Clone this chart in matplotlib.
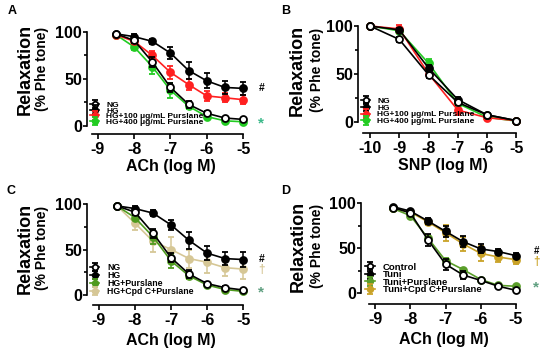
import matplotlib.pyplot as plt

plt.rcParams['font.family'] = ['Liberation Sans', 'DejaVu Sans']
plt.rcParams['font.weight'] = 'bold'

# data
ach_x = [-8.5, -8, -7.5, -7, -6.5, -6, -5.5, -5]
snp_x = [-10, -9, -8, -7, -6, -5]

# A
a_ng = [98, 91, 68, 41, 23, 13.5, 8.5, 7]
a_ng_err = [1, 3, 5, 5, 4, 2, 1.5, 1.5]
a_hg = [98, 95, 90, 77.5, 59, 48, 41, 40]
a_hg_err = [1, 3, 3, 6, 9, 8, 7, 7]
a_p100 = [97, 90, 75, 57, 44, 32, 30, 28]
a_p100_err = [1, 3, 5, 7, 6, 5, 5, 5]
a_p400 = [97, 84, 63, 38, 21, 10, 5.5, 4.5]
a_p400_err = [1, 3, 8, 8, 3, 2, 1, 1]

# B
b_ng = [100, 86, 49, 20, 7, 1]
b_ng_err = [0.5, 3, 3, 3, 1, 1]
b_hg = [100, 96, 56, 23, 7, 1]
b_hg_err = [0.5, 2, 3, 3, 1, 1]
b_p100 = [100, 97, 50, 12, 4, 1]
b_p100_err = [0.5, 4, 3, 5, 1, 1]
b_p400 = [100, 95, 61, 19, 4.5, 0.5]
b_p400_err = [0.5, 2, 4, 3, 1, 1]

# C
c_ng = [98, 91, 68, 41, 23, 12.5, 8, 5.5]
c_ng_err = [1, 3, 5, 5, 4, 2, 1.5, 1.5]
c_hg = [98, 95, 90, 77, 60, 46, 40, 39]
c_hg_err = [1, 3, 3, 6, 9, 8, 7, 8]
c_pur = [98, 85, 64, 37.5, 21, 11, 6, 4]
c_pur_err = [1, 3, 8, 8, 3, 2, 1, 1]
c_cpd = [98, 79, 59, 50, 40, 36, 30, 28.5]
c_cpd_err = [1, 8, 12, 14, 10, 12, 9, 11]

# D
d_ctrl = [95, 89, 59, 32, 20, 14, 7.5, 3]
d_ctrl_err = [2, 1, 7, 6, 4, 2, 1, 1]
d_tuni = [96, 91, 80, 68.5, 57, 49, 46, 41.5]
d_tuni_err = [1, 1, 3, 6, 6, 5, 3, 3]
d_pur = [94, 86, 61, 36, 26, 15, 8.5, 7.5]
d_pur_err = [1, 1, 2, 3, 2, 1, 1, 1]
d_cpd = [94, 90, 79, 67, 54.5, 44, 40, 37]
d_cpd_err = [1, 2, 3, 9, 8, 8, 5, 5]


def curve(ax, x, y, err, color, label, fill=None, z=2):
    ax.errorbar(x, y, yerr=err, color=color, marker='o', ms=5,
                mfc=fill if fill else color, mec=color, mew=1.3, lw=1.2,
                elinewidth=1.1, capsize=2.5, capthick=1.1, label=label, zorder=z)


def style(ax, xlim, ylim, xstart, xticks, xlabel, legfs, legpos, legsp, xlpad=2):
    ax.set_xlim(*xlim)
    ax.set_ylim(*ylim)
    for s in ['top', 'right']:
        ax.spines[s].set_visible(False)
    for s in ['left', 'bottom']:
        ax.spines[s].set_linewidth(1.2)
    ax.spines['left'].set_bounds(0, 100)
    ax.spines['bottom'].set_bounds(xstart, xticks[-1])
    ax.set_yticks([0, 50, 100])
    ax.set_yticks([25, 75], minor=True)
    ax.set_xticks(xticks)
    ax.tick_params(axis='y', which='major', length=3, width=1.2, pad=0.5, labelsize=11.5)
    ax.tick_params(axis='y', which='minor', length=2, width=1.2)
    ax.tick_params(axis='x', which='major', length=3.5, width=1.2, pad=2, labelsize=11.5)
    ax.set_xticklabels([str(t) for t in xticks])
    ax.set_xlabel(xlabel, fontsize=11.5, fontweight='bold', labelpad=xlpad)
    h, l = ax.get_legend_handles_labels()
    ax.legend(h[::-1], l[::-1], loc='upper left', bbox_to_anchor=legpos, frameon=False,
              fontsize=legfs, handlelength=1.0, handletextpad=0.9, labelspacing=legsp,
              borderpad=0, borderaxespad=0, markerscale=0.8)


fig = plt.figure(figsize=(5.5, 3.56), dpi=100)
W, H = 550, 356


def add_axes(l, r, t, b):
    return fig.add_axes([l / W, 1 - b / H, (r - l) / W, (b - t) / H])


# Panel A
axA = add_axes(87, 254, 28.2, 134)
curve(axA, ach_x, a_p400, a_p400_err, '#22cc22', 'HG+400 μg/mL Purslane', z=2)
curve(axA, ach_x, a_p100, a_p100_err, '#ff2020', 'HG+100 μg/mL Purslane', z=3)
curve(axA, ach_x, a_hg, a_hg_err, 'black', 'HG', z=4)
curve(axA, ach_x, a_ng, a_ng_err, 'black', 'NG', fill='white', z=5)
style(axA, (-9.3, -4.7), (-8.5, 104), -9.17, [-9, -8, -7, -6, -5], 'ACh (log M)', 6, (0.02, 0.312), -0.25)
axA.text(-4.5, 40, '#', fontsize=7.5, fontweight='bold', ha='center', va='center')
axA.text(-4.5, 3, '*', fontsize=11, fontweight='bold', color='#3cb98a', ha='center', va='center')

# Panel B
axB = add_axes(358, 528, 22.2, 133)
curve(axB, snp_x, b_p400, b_p400_err, '#22cc22', 'HG+400 μg/mL Purslane', z=2)
curve(axB, snp_x, b_p100, b_p100_err, '#ff2020', 'HG+100 μg/mL Purslane', z=3)
curve(axB, snp_x, b_hg, b_hg_err, 'black', 'HG', z=4)
curve(axB, snp_x, b_ng, b_ng_err, 'black', 'NG', fill='white', z=5)
style(axB, (-10.41, -4.6), (-12, 104), -10.24, [-10, -9, -8, -7, -6, -5], 'SNP (log M)', 6, (0.02, 0.325), -0.12)

# Panel C
axC = add_axes(87, 254, 200.4, 305)
curve(axC, ach_x, c_cpd, c_cpd_err, '#d6c796', 'HG+Cpd C+Purslane', z=2)
curve(axC, ach_x, c_pur, c_pur_err, '#4e9a1e', 'HG+Purslane', z=3)
curve(axC, ach_x, c_hg, c_hg_err, 'black', 'HG', z=4)
curve(axC, ach_x, c_ng, c_ng_err, 'black', 'NG', fill='white', z=5)
style(axC, (-9.33, -4.7), (-11, 104), -9.17, [-9, -8, -7, -6, -5], 'ACh (log M)', 6.3, (0.02, 0.40), -0.12, xlpad=4)
axC.text(-4.5, 40, '#', fontsize=7.5, fontweight='bold', ha='center', va='center')
axC.text(-4.5, 27.5, '†', fontsize=8.5, fontweight='bold', color='#d6c796', ha='center', va='center')
axC.text(-4.5, 3, '*', fontsize=11, fontweight='bold', color='#5f9f80', ha='center', va='center')

# Panel D
axD = add_axes(361, 526.6, 199.4, 304)
curve(axD, ach_x, d_cpd, d_cpd_err, '#c9a227', 'Tuni+Cpd C+Purslane', z=2)
curve(axD, ach_x, d_pur, d_pur_err, '#5a9e2a', 'Tuni+Purslane', z=3)
curve(axD, ach_x, d_tuni, d_tuni_err, 'black', 'Tuni', z=4)
curve(axD, ach_x, d_ctrl, d_ctrl_err, 'black', 'Control', fill='white', z=5)
style(axD, (-9.4, -4.7), (-12.2, 104), -9.17, [-9, -8, -7, -6, -5], 'ACh (log M)', 6.8, (0.025, 0.394), -0.16, xlpad=4)
axD.text(-4.42, 47, '#', fontsize=7, fontweight='bold', ha='center', va='center')
axD.text(-4.42, 35, '†', fontsize=8.5, fontweight='bold', color='#c9a227', ha='center', va='center')
axD.text(-4.42, 6.5, '*', fontsize=11, fontweight='bold', color='#5f9f80', ha='center', va='center')

# y labels and panel letters
for (x1, x2, yc) in [(25, 42, 69), (297, 317, 70), (25, 42, 248), (298, 317, 246)]:
    fig.text(x1 / W, 1 - yc / H, 'Relaxation', rotation=90, fontsize=13, fontweight='bold',
             ha='center', va='center')
    fig.text(x2 / W, 1 - yc / H, '(% Phe tone)', rotation=90, fontsize=10, fontweight='bold',
             ha='center', va='center')

for (lx, ly, s) in [(12, 11, 'A'), (286, 11, 'B'), (11, 191, 'C'), (286, 191, 'D')]:
    fig.text(lx / W, 1 - ly / H, s, fontsize=9, fontweight='bold', ha='center', va='center')

fig.savefig('out.png', dpi=100)
